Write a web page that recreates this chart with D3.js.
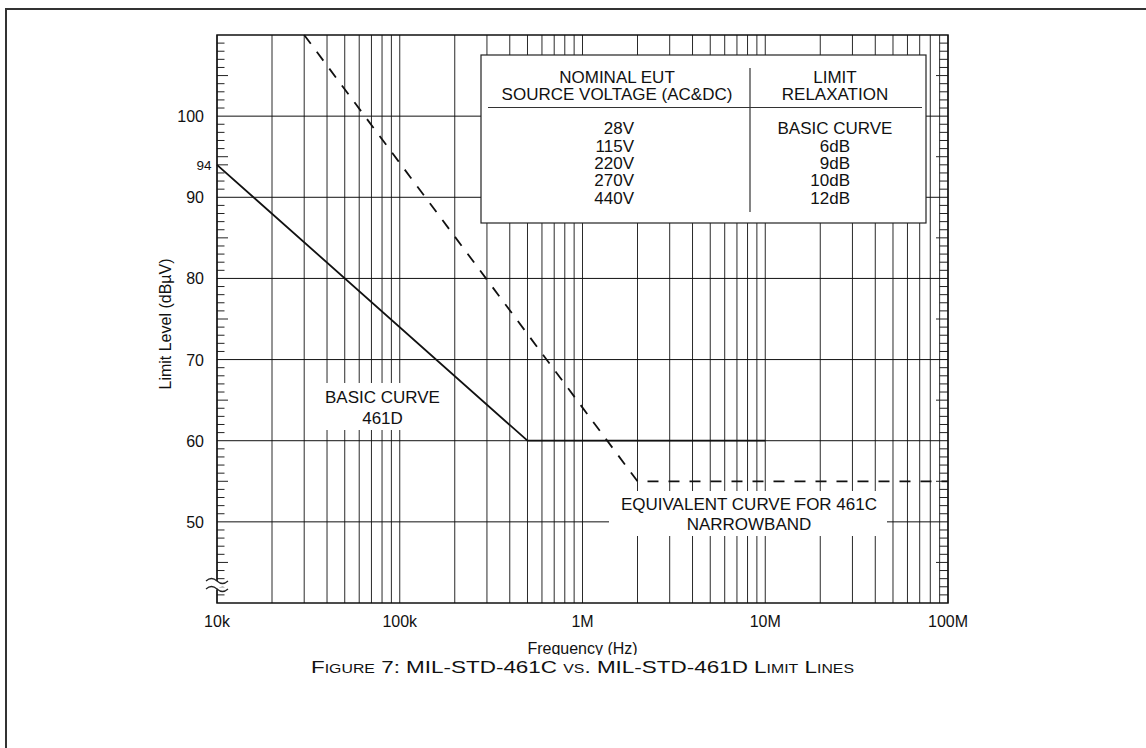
<!DOCTYPE html>
<html>
<head>
<meta charset="utf-8">
<script src="https://cdn.jsdelivr.net/npm/d3@7"></script>
<style>
  body { margin: 0; background: #fff; }
  svg { display: block; font-family: "Liberation Sans", Arial, Helvetica, sans-serif; }
</style>
</head>
<body>
<div id="chart"></div>
<script>
// curves: [frequency Hz, level dBuV]
var basicCurve = [[1e4, 94], [5e5, 60], [1e7, 60]];
var narrowbandCurve = [[3e4, 110], [2e6, 55], [1e8, 55]];

var yTicks = [50, 60, 70, 80, 90, 100];
var xTicks = [1e4, 1e5, 1e6, 1e7, 1e8];
var xTickLabels = ["10k", "100k", "1M", "10M", "100M"];

var voltages = ["28V", "115V", "220V", "270V", "440V"];
var relaxations = ["BASIC CURVE", "6dB", "9dB", "10dB", "12dB"];

var w = 1146, h = 748,
    plotL = 217, plotR = 948, plotT = 35, plotB = 603;

var x = d3.scaleLog().domain([1e4, 1e8]).range([plotL, plotR]);
var y = d3.scaleLinear().domain([40, 110]).range([plotB, plotT]);

var svg = d3.select("#chart").append("svg")
    .attr("width", w)
    .attr("height", h);

/* page frame */
svg.append("path")
    .attr("d", "M6," + h + "V9H" + w)
    .attr("fill", "none")
    .attr("stroke", "#333")
    .attr("stroke-width", 2);

/* vertical grid, 1..9 per decade */
var vLines = [];
for (var d = 1e4; d < 1e8; d *= 10) {
  for (var m = 1; m < 10; m++) vLines.push(d * m);
}
vLines.push(1e8);

svg.append("g").selectAll("line")
    .data(vLines)
  .enter().append("line")
    .attr("x1", function(d) { return x(d); })
    .attr("x2", function(d) { return x(d); })
    .attr("y1", plotT)
    .attr("y2", plotB)
    .attr("stroke", "#2a2a2a")
    .attr("stroke-width", 1);

/* horizontal grid */
svg.append("g").selectAll("line")
    .data(yTicks)
  .enter().append("line")
    .attr("x1", plotL)
    .attr("x2", plotR)
    .attr("y1", function(d) { return y(d); })
    .attr("y2", function(d) { return y(d); })
    .attr("stroke", "#111")
    .attr("stroke-width", 1);

/* minor ticks on left and right edges */
var minor = d3.range(41, 110).filter(function(v) { return v % 10 !== 0; });
var tickLen = function(v) { return (v % 5 === 0 || v === 94) ? 11 : 7.5; };

svg.append("g").selectAll("line")
    .data(minor)
  .enter().append("line")
    .attr("x1", plotL)
    .attr("x2", function(v) { return plotL + tickLen(v); })
    .attr("y1", function(v) { return y(v); })
    .attr("y2", function(v) { return y(v); })
    .attr("stroke", "#222");

svg.append("g").selectAll("line")
    .data(minor)
  .enter().append("line")
    .attr("x1", plotR)
    .attr("x2", function(v) { return plotR - (v % 5 === 0 ? 12 : 8.5); })
    .attr("y1", function(v) { return y(v); })
    .attr("y2", function(v) { return y(v); })
    .attr("stroke", "#222");

/* white boxes that interrupt the grid */
svg.append("rect")
    .attr("x", 312).attr("y", 383)
    .attr("width", 136).attr("height", 47)
    .attr("fill", "#fff");

svg.append("rect")
    .attr("x", 609).attr("y", 491)
    .attr("width", 278).attr("height", 45)
    .attr("fill", "#fff");

/* table */
var table = svg.append("g");
table.append("rect")
    .attr("x", 481).attr("y", 55)
    .attr("width", 445).attr("height", 168)
    .attr("fill", "#fff")
    .attr("stroke", "#222")
    .attr("stroke-width", 1.2);
table.append("line")
    .attr("x1", 750).attr("x2", 750)
    .attr("y1", 68).attr("y2", 212)
    .attr("stroke", "#333").attr("stroke-width", 1.2);
table.append("line")
    .attr("x1", 488).attr("x2", 922)
    .attr("y1", 107.5).attr("y2", 107.5)
    .attr("stroke", "#333").attr("stroke-width", 1.2);

var th = [["NOMINAL EUT", 617, 82.7], ["SOURCE VOLTAGE (AC&DC)", 617, 100],
          ["LIMIT", 835, 82.7], ["RELAXATION", 835, 100]];
table.selectAll("text.head")
    .data(th)
  .enter().append("text")
    .attr("class", "head")
    .attr("x", function(d) { return d[1]; })
    .attr("y", function(d) { return d[2]; })
    .attr("text-anchor", "middle")
    .attr("font-size", 17)
    .attr("fill", "#111")
    .text(function(d) { return d[0]; });

table.selectAll("text.volt")
    .data(voltages)
  .enter().append("text")
    .attr("class", "volt")
    .attr("x", 634)
    .attr("y", function(d, i) { return 134.3 + i * 17.3; })
    .attr("text-anchor", "end")
    .attr("font-size", 17)
    .attr("fill", "#111")
    .text(function(d) { return d; });

table.selectAll("text.relax")
    .data(relaxations)
  .enter().append("text")
    .attr("class", "relax")
    .attr("x", function(d, i) { return i === 0 ? 835 : 850; })
    .attr("y", function(d, i) { return 134.3 + i * 17.3; })
    .attr("text-anchor", function(d, i) { return i === 0 ? "middle" : "end"; })
    .attr("font-size", 17)
    .attr("fill", "#111")
    .text(function(d) { return d; });

/* curves */
var line = d3.line()
    .x(function(d) { return x(d[0]); })
    .y(function(d) { return y(d[1]); });

svg.append("path")
    .datum(basicCurve)
    .attr("d", line)
    .attr("fill", "none")
    .attr("stroke", "#111")
    .attr("stroke-width", 1.8);

svg.append("path")
    .datum(narrowbandCurve)
    .attr("d", line)
    .attr("fill", "none")
    .attr("stroke", "#111")
    .attr("stroke-width", 1.8)
    .attr("stroke-dasharray", "11,10");

/* plot border */
svg.append("rect")
    .attr("x", plotL).attr("y", plotT)
    .attr("width", plotR - plotL).attr("height", plotB - plotT)
    .attr("fill", "none")
    .attr("stroke", "#111")
    .attr("stroke-width", 1.5);

/* axis break on the left edge */
var brk = svg.append("g");
brk.append("path")
    .attr("d", "M206,581 q5.5,-5 11,0 t11,0 v8 q-5.5,-5 -11,0 t-11,0 z")
    .attr("fill", "#fff");
brk.selectAll("path.wave")
    .data([581, 589])
  .enter().append("path")
    .attr("class", "wave")
    .attr("d", function(d) { return "M206," + d + " q5.5,-5 11,0 t11,0"; })
    .attr("fill", "none")
    .attr("stroke", "#222")
    .attr("stroke-width", 1.2);

/* tick labels */
svg.append("g").selectAll("text")
    .data(yTicks)
  .enter().append("text")
    .attr("x", 204)
    .attr("y", function(d) { return y(d) + 6; })
    .attr("text-anchor", "end")
    .attr("font-size", 16)
    .attr("fill", "#111")
    .text(function(d) { return d; });

svg.append("text")
    .attr("x", 211.5)
    .attr("y", y(94) + 5)
    .attr("text-anchor", "end")
    .attr("font-size", 13.5)
    .attr("fill", "#111")
    .text("94");

svg.append("g").selectAll("text")
    .data(xTicks)
  .enter().append("text")
    .attr("x", function(d) { return x(d); })
    .attr("y", 627)
    .attr("text-anchor", "middle")
    .attr("font-size", 16)
    .attr("fill", "#111")
    .text(function(d, i) { return xTickLabels[i]; });

/* axis titles */
svg.append("text")
    .attr("transform", "translate(171,324) rotate(-90)")
    .attr("text-anchor", "middle")
    .attr("font-size", 16)
    .attr("fill", "#111")
    .text("Limit Level (dB\u00b5V)");

svg.append("clipPath").attr("id", "cutFreq")
  .append("rect").attr("x", 0).attr("y", 0).attr("width", w).attr("height", 655);

svg.append("text")
    .attr("x", (plotL + plotR) / 2)
    .attr("y", 653.5)
    .attr("text-anchor", "middle")
    .attr("font-size", 16)
    .attr("fill", "#111")
    .attr("clip-path", "url(#cutFreq)")
    .text("Frequency (Hz)");

/* curve annotations */
svg.selectAll("text.note")
    .data([["BASIC CURVE", 382.5, 403.3], ["461D", 382.5, 424],
           ["EQUIVALENT CURVE FOR 461C", 749, 510], ["NARROWBAND", 749, 530]])
  .enter().append("text")
    .attr("class", "note")
    .attr("x", function(d) { return d[1]; })
    .attr("y", function(d) { return d[2]; })
    .attr("text-anchor", "middle")
    .attr("font-size", 17)
    .attr("fill", "#111")
    .text(function(d) { return d[0]; });

/* figure caption */
svg.append("text")
    .attr("x", (plotL + plotR) / 2)
    .attr("y", 673.3)
    .attr("text-anchor", "middle")
    .attr("font-size", 17)
    .attr("font-variant", "small-caps")
    .attr("textLength", 543)
    .attr("lengthAdjust", "spacingAndGlyphs")
    .attr("fill", "#111")
    .text("Figure 7: MIL-STD-461C vs. MIL-STD-461D Limit Lines");
</script>
</body>
</html>
